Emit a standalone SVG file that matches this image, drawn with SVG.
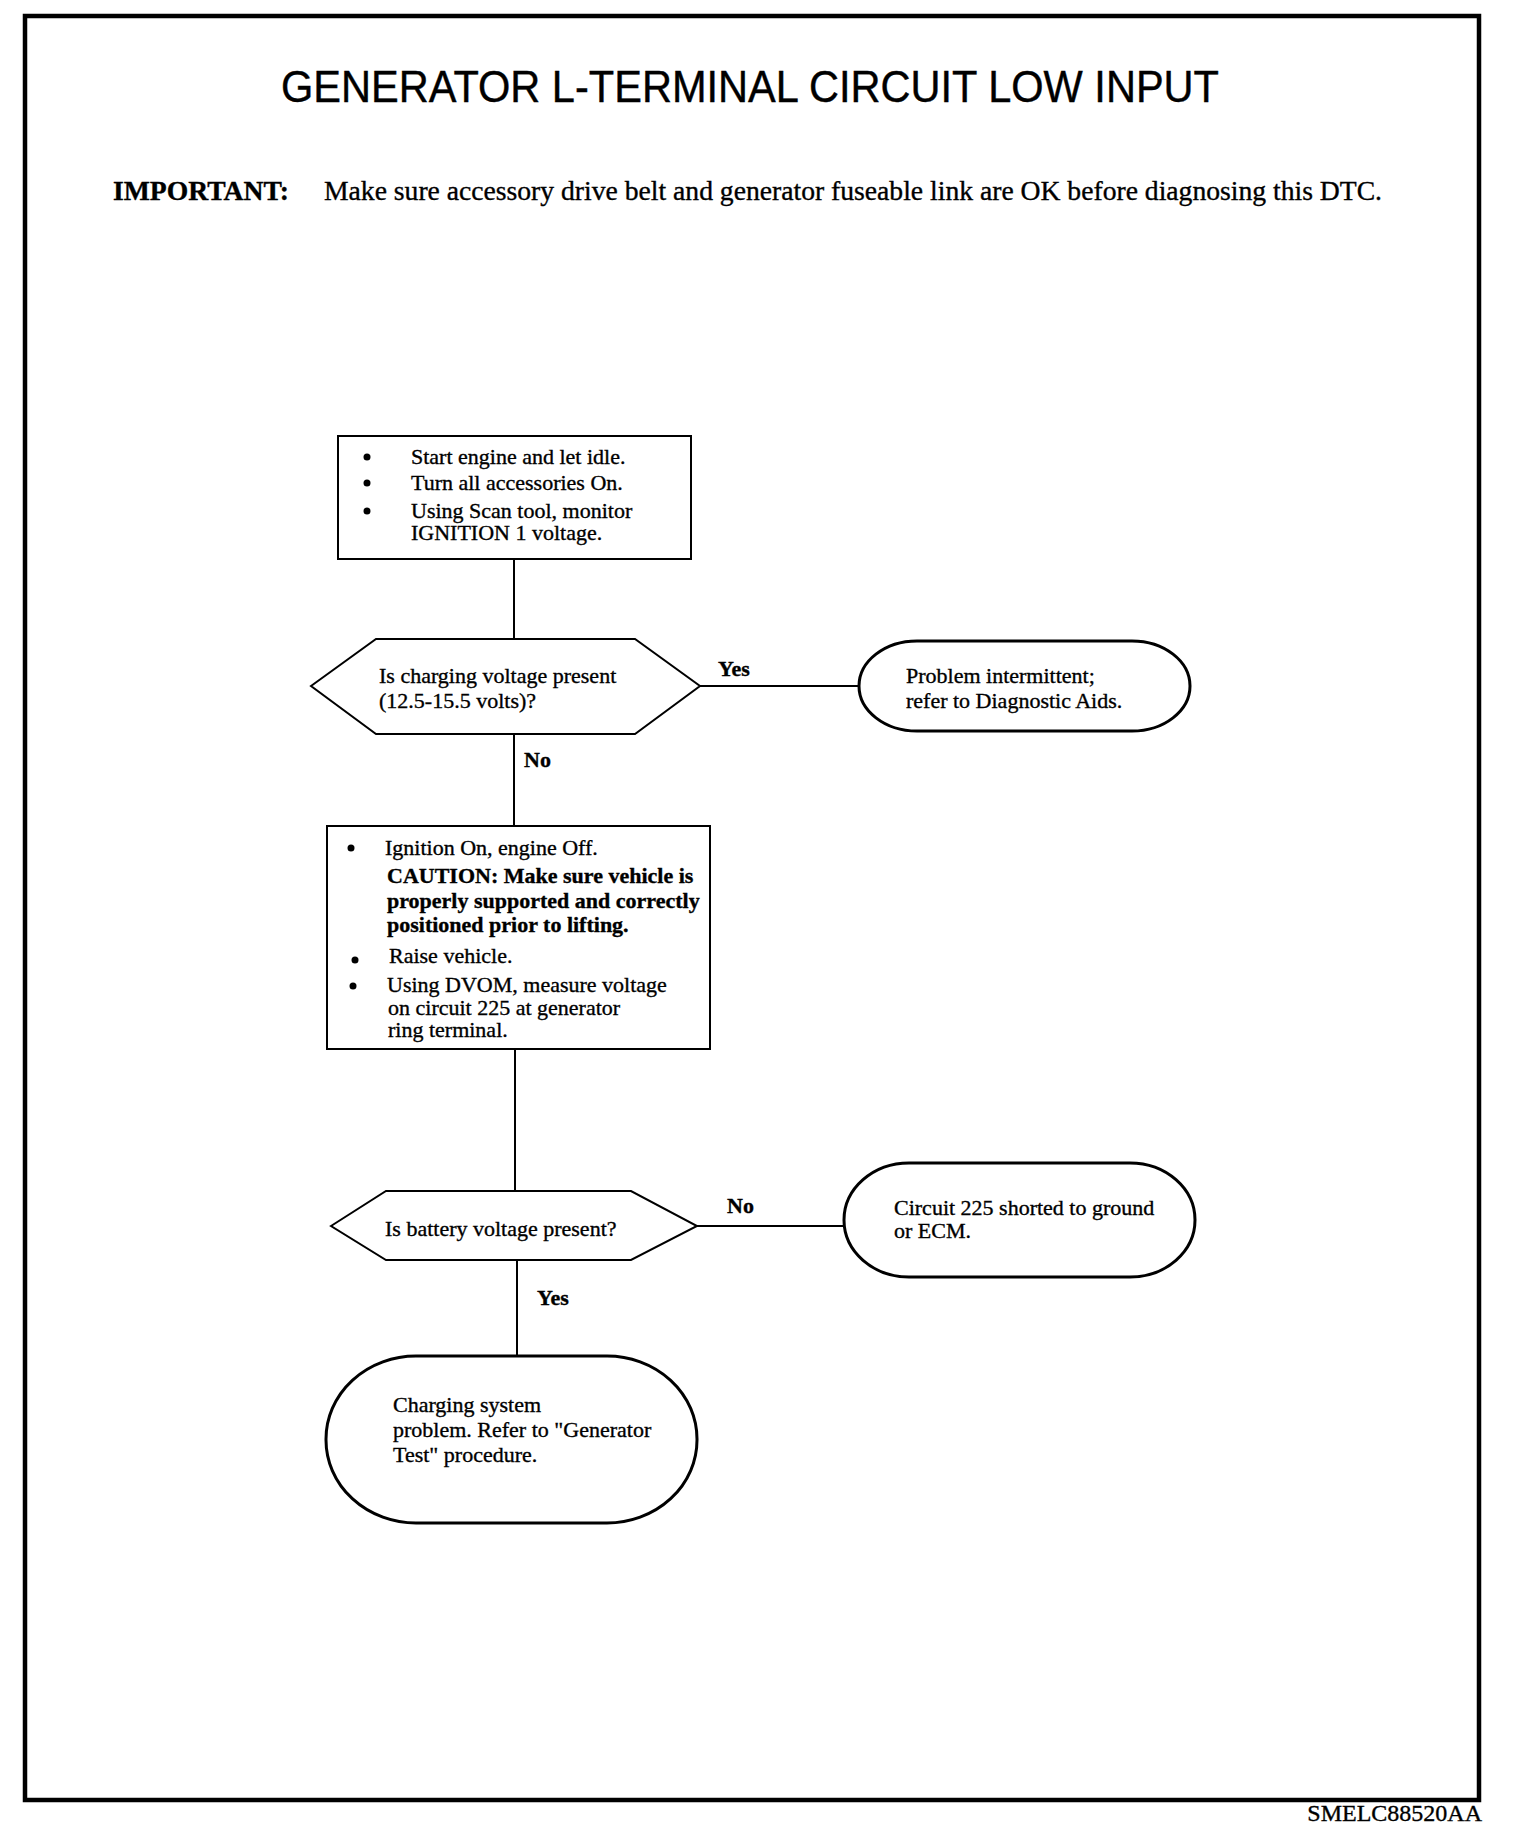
<svg xmlns="http://www.w3.org/2000/svg" width="1520" height="1830" viewBox="0 0 1520 1830">
<style>
.t{font-family:"Liberation Serif","Times New Roman",serif;font-size:22px;fill:#000;stroke:#000;stroke-width:0.35}
.b{font-weight:bold}
.box{fill:#fff;stroke:#000;stroke-width:2}
.term{fill:#fff;stroke:#000;stroke-width:3}
.ln{stroke:#000;stroke-width:2;fill:none}
</style>
<rect x="0" y="0" width="1520" height="1830" fill="#fff"/>
<rect x="25" y="16" width="1454" height="1784" fill="none" stroke="#000" stroke-width="4.5"/>
<text x="750" y="102" text-anchor="middle" font-family="'Liberation Sans',Arial,sans-serif" font-size="44" stroke="#000" stroke-width="0.4" textLength="938" lengthAdjust="spacingAndGlyphs">GENERATOR L-TERMINAL CIRCUIT LOW INPUT</text>
<text class="t b" x="113" y="200" style="font-size:27px" textLength="176" lengthAdjust="spacingAndGlyphs">IMPORTANT:</text>
<text class="t" x="324" y="200" style="font-size:27px" textLength="1058" lengthAdjust="spacingAndGlyphs">Make sure accessory drive belt and generator fuseable link are OK before diagnosing this DTC.</text>

<g id="connectors">
<line class="ln" x1="514" y1="559" x2="514" y2="639"/>
<line class="ln" x1="700" y1="686" x2="859" y2="686"/>
<line class="ln" x1="514" y1="734" x2="514" y2="826"/>
<line class="ln" x1="515" y1="1049" x2="515" y2="1191"/>
<line class="ln" x1="697" y1="1226" x2="844" y2="1226"/>
<line class="ln" x1="517" y1="1260" x2="517" y2="1356"/>
<text class="t b" x="718" y="676">Yes</text>
<text class="t b" x="524" y="767">No</text>
<text class="t b" x="727" y="1213">No</text>
<text class="t b" x="537" y="1305">Yes</text>
</g>

<g id="step1">
<rect class="box" x="338" y="436" width="353" height="123"/>
<circle cx="367" cy="457" r="3.5"/>
<circle cx="367" cy="483" r="3.5"/>
<circle cx="367" cy="511" r="3.5"/>
<text class="t" x="411" y="464">Start engine and let idle.</text>
<text class="t" x="411" y="490">Turn all accessories On.</text>
<text class="t" x="411" y="518">Using Scan tool, monitor</text>
<text class="t" x="411" y="540">IGNITION 1 voltage.</text>
</g>

<g id="decision1">
<polygon class="box" points="311,686 376,639 635,639 700,686 635,734 376,734"/>
<text class="t" x="379" y="683">Is charging voltage present</text>
<text class="t" x="379" y="708">(12.5-15.5 volts)?</text>
</g>

<g id="end1">
<rect class="term" x="859" y="641" width="331" height="90" rx="58" ry="45"/>
<text class="t" x="906" y="683">Problem intermittent;</text>
<text class="t" x="906" y="708">refer to Diagnostic Aids.</text>
</g>

<g id="step2">
<rect class="box" x="327" y="826" width="383" height="223"/>
<circle cx="351" cy="848" r="3.5"/>
<circle cx="355" cy="960" r="3.5"/>
<circle cx="353" cy="986" r="3.5"/>
<text class="t" x="385" y="855">Ignition On, engine Off.</text>
<text class="t b" x="387" y="883">CAUTION: Make sure vehicle is</text>
<text class="t b" x="387" y="908">properly supported and correctly</text>
<text class="t b" x="387" y="932">positioned prior to lifting.</text>
<text class="t" x="389" y="963">Raise vehicle.</text>
<text class="t" x="387" y="992">Using DVOM, measure voltage</text>
<text class="t" x="388" y="1015">on circuit 225 at generator</text>
<text class="t" x="388" y="1037">ring terminal.</text>
</g>

<g id="decision2">
<polygon class="box" points="331,1226 386,1191 631,1191 697,1226 631,1260 386,1260"/>
<text class="t" x="385" y="1236">Is battery voltage present?</text>
</g>

<g id="end2">
<rect class="term" x="844" y="1163" width="351" height="114" rx="65" ry="57"/>
<text class="t" x="894" y="1215">Circuit 225 shorted to ground</text>
<text class="t" x="894" y="1238">or ECM.</text>
</g>

<g id="end3">
<rect class="term" x="326" y="1356" width="371" height="167" rx="90" ry="83"/>
<text class="t" x="393" y="1412">Charging system</text>
<text class="t" x="393" y="1437">problem. Refer to "Generator</text>
<text class="t" x="393" y="1462">Test" procedure.</text>
</g>

<text class="t" x="1482" y="1821" text-anchor="end" style="font-size:24px">SMELC88520AA</text>
</svg>
